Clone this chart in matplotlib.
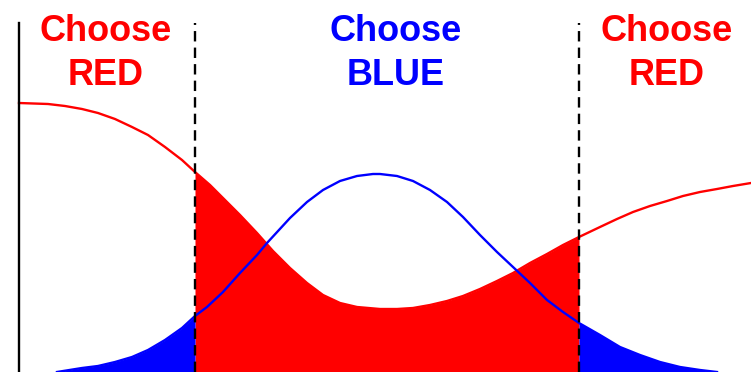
import matplotlib
matplotlib.use("Agg")
import matplotlib.pyplot as plt
import numpy as np

# Curve readings (x = score, y = density)
red_x = [0.00, 0.29, 0.46, 0.63, 0.79, 0.96, 1.13, 1.29, 1.46, 1.63, 1.76, 1.91,
         2.04, 2.21, 2.38, 2.54, 2.71, 2.88, 3.04, 3.21, 3.38, 3.61, 3.78, 3.94,
         4.11, 4.28, 4.44, 4.61, 4.78, 4.94, 5.11, 5.28, 5.44, 5.60, 5.81, 5.98,
         6.14, 6.31, 6.48, 6.64, 6.81, 6.98, 7.14, 7.32]
red_y = [2.69, 2.68, 2.66, 2.63, 2.59, 2.53, 2.45, 2.37, 2.25, 2.12, 2.00, 1.87,
         1.74, 1.57, 1.39, 1.21, 1.04, 0.89, 0.77, 0.69, 0.65, 0.63, 0.63, 0.64,
         0.67, 0.71, 0.76, 0.83, 0.91, 0.99, 1.09, 1.18, 1.27, 1.35, 1.45, 1.53,
         1.60, 1.66, 1.71, 1.76, 1.80, 1.83, 1.86, 1.89]

blue_x = [0.38, 0.63, 0.79, 0.96, 1.13, 1.29, 1.46, 1.63, 1.76, 1.88, 2.04, 2.21,
          2.38, 2.48, 2.71, 2.88, 3.04, 3.21, 3.38, 3.54, 3.61, 3.78, 3.94, 4.11,
          4.28, 4.44, 4.61, 4.78, 4.94, 5.11, 5.28, 5.44, 5.60, 5.81, 6.01, 6.21,
          6.41, 6.61, 6.81, 6.98]
blue_y = [0.00, 0.04, 0.06, 0.10, 0.15, 0.22, 0.32, 0.44, 0.56, 0.65, 0.80, 0.99,
          1.17, 1.29, 1.54, 1.70, 1.82, 1.91, 1.96, 1.98, 1.98, 1.96, 1.91, 1.82,
          1.70, 1.55, 1.37, 1.20, 1.05, 0.89, 0.72, 0.60, 0.49, 0.37, 0.25, 0.17,
          0.10, 0.05, 0.02, 0.00]

boundaries = [1.76, 5.60]
labels = [("Choose", "RED", 0.87, "#ff0000"),
          ("Choose", "BLUE", 3.77, "#0000ff"),
          ("Choose", "RED", 6.48, "#ff0000")]

red_x = np.array(red_x); red_y = np.array(red_y)
blue_x = np.array(blue_x); blue_y = np.array(blue_y)

fig = plt.figure(figsize=(7.51, 3.72), dpi=100)
ax = fig.add_axes([19 / 751, 0, 732 / 751, 349 / 372])
ax.set_xlim(0, 7.32)
ax.set_ylim(0, 3.49)

lo, hi = boundaries
m = (red_x >= lo) & (red_x <= hi)
ax.fill_between(red_x[m], 0, red_y[m], color="#ff0000", lw=0, zorder=1)
ml = blue_x <= lo
ax.fill_between(blue_x[ml], 0, blue_y[ml], color="#0000ff", lw=0, zorder=2)
mr = blue_x >= hi
ax.fill_between(blue_x[mr], 0, blue_y[mr], color="#0000ff", lw=0, zorder=2)

ax.plot(red_x, red_y, color="#ff0000", lw=1.7, zorder=3, clip_on=False,
        solid_joinstyle="round")
ax.plot(blue_x, blue_y, color="#0000ff", lw=1.7, zorder=4,
        solid_joinstyle="round")

for b in boundaries:
    ax.axvline(b, color="black", lw=1.7, linestyle=(0, (4.4, 2.6)), zorder=5)

for top, bottom, xc, col in labels:
    ax.text(xc, 3.31, top, color=col, fontsize=26, fontweight="bold",
            family="Liberation Sans", ha="center", va="baseline")
    ax.text(xc, 2.87, bottom, color=col, fontsize=26, fontweight="bold",
            family="Liberation Sans", ha="center", va="baseline")

for s in ["top", "right", "bottom"]:
    ax.spines[s].set_visible(False)
ax.spines["left"].set_linewidth(1.7)
ax.spines["left"].set_color("black")
ax.spines["left"].set_zorder(6)
ax.set_xticks([])
ax.set_yticks([])

fig.savefig("out.png", dpi=100)
